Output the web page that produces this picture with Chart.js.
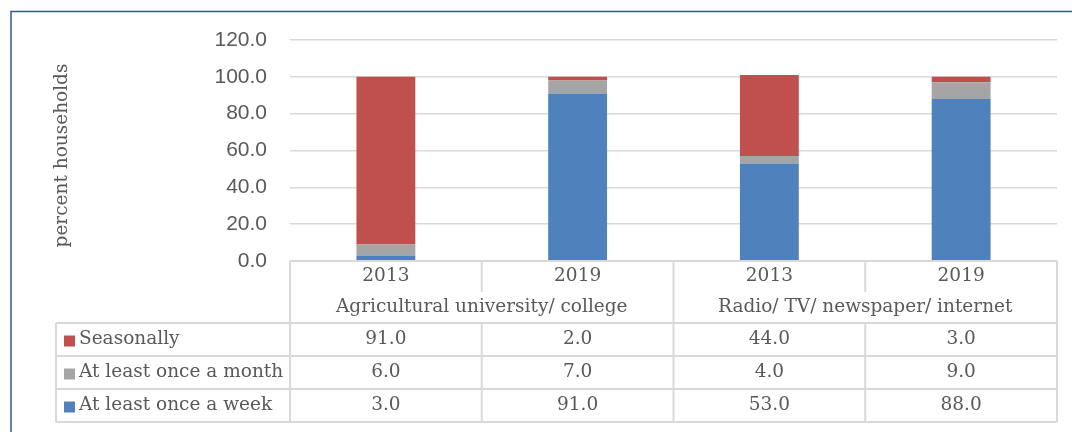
<!DOCTYPE html>
<html><head><meta charset="utf-8">
<script src="https://cdn.jsdelivr.net/npm/chart.js@4"></script>
<style>html,body{margin:0;padding:0;background:#fff;}#wrap{width:1072px;height:432px;position:relative;}</style>
</head><body><div id="wrap"><canvas id="c" width="1072" height="432"></canvas></div>
<script>
const years = ['2013', '2019', '2013', '2019'];
const groups = ['Agricultural university/ college', 'Radio/ TV/ newspaper/ internet'];
const seriesNames = ['At least once a week', 'At least once a month', 'Seasonally'];
const weekly = [3.0, 91.0, 53.0, 88.0];
const monthly = [6.0, 7.0, 4.0, 9.0];
const seasonally = [91.0, 2.0, 44.0, 3.0];
const yTicks = [0, 20, 40, 60, 80, 100, 120];
const yTitle = 'percent households';
const colors = ['#4F81BD', '#A5A5A5', '#C0504D'];

const TEXT = '#595959';
const SERIF = '"DejaVu Serif", serif';
const SANS = '"Liberation Sans", sans-serif';

const tablePlugin = {
  id: 'tablePlugin',
  afterDraw(chart) {
    const ctx = chart.ctx;
    const ca = chart.chartArea;
    const xs = chart.scales.x;
    const n = years.length;
    const w = (ca.right - ca.left) / n;
    const L = ca.left, R = ca.right;
    const top = ca.bottom;
    const yrBottom = top + 31;
    const hdrBottom = top + 62;
    const rowH = 33;
    const leftX = 56;
    ctx.save();
    // frame
    ctx.strokeStyle = '#2E5A8E';
    ctx.lineWidth = 1.5;
    ctx.beginPath();
    ctx.moveTo(11, 432); ctx.lineTo(11, 11.5); ctx.lineTo(1072, 11.5);
    ctx.stroke();
    // table lines
    ctx.strokeStyle = '#D9D9D9';
    ctx.lineWidth = 2;
    ctx.beginPath();
    ctx.moveTo(L, top); ctx.lineTo(R, top);
    for (let r = 0; r <= 3; r++) {
      const y = hdrBottom + r * rowH;
      ctx.moveTo(leftX, y); ctx.lineTo(R, y);
    }
    const tableBottom = hdrBottom + 3 * rowH;
    ctx.moveTo(leftX, hdrBottom); ctx.lineTo(leftX, tableBottom);
    for (let i = 0; i <= n; i++) {
      const x = L + i * w;
      if (i === 1 || i === 3) {
        ctx.moveTo(x, top); ctx.lineTo(x, yrBottom);
        ctx.moveTo(x, hdrBottom); ctx.lineTo(x, tableBottom);
      } else {
        ctx.moveTo(x, top); ctx.lineTo(x, tableBottom);
      }
    }
    ctx.stroke();
    // header text
    ctx.fillStyle = TEXT;
    ctx.font = '18.5px ' + SERIF;
    ctx.textAlign = 'center';
    ctx.textBaseline = 'middle';
    years.forEach((yv, i) => {
      ctx.fillText(yv, xs.getPixelForValue(i), top + 15.5);
    });
    groups.forEach((g, gi) => {
      ctx.fillText(g, L + (2 * gi + 1) * w, yrBottom + 15.5);
    });
    // rows: seasonally, monthly, weekly
    const rows = [
      { name: seriesNames[2], data: seasonally, color: colors[2] },
      { name: seriesNames[1], data: monthly, color: colors[1] },
      { name: seriesNames[0], data: weekly, color: colors[0] }
    ];
    rows.forEach((row, r) => {
      const cy = hdrBottom + r * rowH + rowH / 2;
      ctx.fillStyle = row.color;
      ctx.fillRect(64, cy - 4, 11, 11);
      ctx.fillStyle = TEXT;
      ctx.textAlign = 'left';
      ctx.fillText(row.name, 79, cy);
      ctx.textAlign = 'center';
      row.data.forEach((v, i) => {
        ctx.fillText(v.toFixed(1), xs.getPixelForValue(i), cy);
      });
    });
    // y title
    ctx.save();
    ctx.translate(62, (ca.top + ca.bottom) / 2 + 5);
    ctx.rotate(-Math.PI / 2);
    ctx.font = '18.5px ' + SERIF;
    ctx.fillStyle = TEXT;
    ctx.textAlign = 'center';
    ctx.textBaseline = 'middle';
    ctx.fillText(yTitle, 0, 0);
    ctx.restore();
    ctx.restore();
  }
};

new Chart(document.getElementById('c'), {
  type: 'bar',
  data: {
    labels: years,
    datasets: [
      { label: seriesNames[0], data: weekly, backgroundColor: colors[0] },
      { label: seriesNames[1], data: monthly, backgroundColor: colors[1] },
      { label: seriesNames[2], data: seasonally, backgroundColor: colors[2] }
    ]
  },
  options: {
    responsive: false,
    animation: false,
    layout: { padding: { top: 40, bottom: 171, right: 15, left: 0 } },
    datasets: { bar: { barPercentage: 0.307, categoryPercentage: 1.0 } },
    plugins: { legend: { display: false }, tooltip: { enabled: false } },
    scales: {
      x: { stacked: true, display: false },
      y: {
        stacked: true,
        min: 0, max: 120,
        afterFit(s) { s.width = 290; },
        afterBuildTicks(s) { s.ticks = yTicks.map(v => ({ value: v })); },
        border: { display: false },
        grid: { color: '#D9D9D9', lineWidth: 1.5, drawTicks: false },
        ticks: {
          padding: 23,
          color: TEXT,
          font: { family: SANS, size: 21 },
          callback: v => Number(v).toFixed(1)
        }
      }
    }
  },
  plugins: [tablePlugin]
});
</script>
</body></html>
